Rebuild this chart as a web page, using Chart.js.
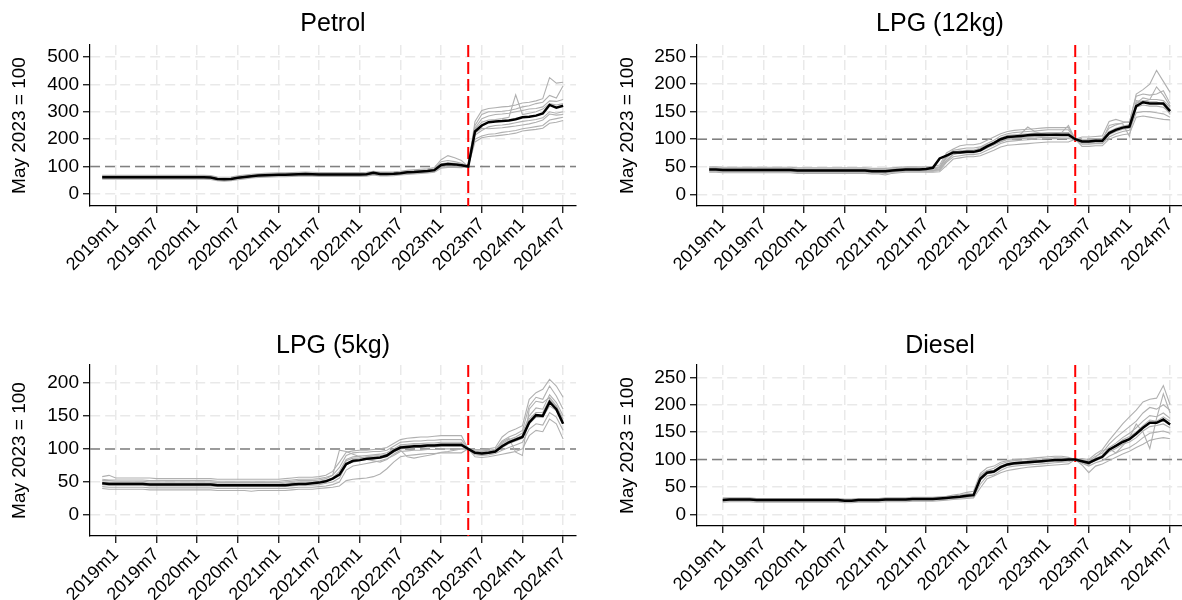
<!DOCTYPE html>
<html>
<head>
<meta charset="utf-8">
<script src="https://cdn.jsdelivr.net/npm/chart.js@4.4.1/dist/chart.umd.min.js"></script>
<style>
  html, body { margin: 0; padding: 0; background: #fff; width: 1182px; height: 600px; overflow: hidden; position: relative; }
  .panel { position: absolute; }
</style>
</head>
<body>
<div class="panel" style="left:0;top:0"><canvas id="petrol" width="591" height="300"></canvas></div>
<div class="panel" style="left:591px;top:0"><canvas id="lpg12" width="610" height="300"></canvas></div>
<div class="panel" style="left:0;top:300px"><canvas id="lpg5" width="591" height="300"></canvas></div>
<div class="panel" style="left:591px;top:300px"><canvas id="diesel" width="610" height="300"></canvas></div>
<script>
// months counted from 2019m1 = 0
const xTickMonths = [0, 6, 12, 18, 24, 30, 36, 42, 48, 54, 60, 66];
const xTickLabels = ['2019m1', '2019m7', '2020m1', '2020m7', '2021m1', '2021m7', '2022m1', '2022m7', '2023m1', '2023m7', '2024m1', '2024m7'];
const policyMonth = 52; // 2023m5
const baseIndex = 100;

// Petrol, 2018m11 .. 2024m7
const petrolMean = [
  61,61,61,61,61,61,61,61,61,61,61,61,
  61,61,61,61,60,55,54,55,59,62,65,67,
  68,69,70,70,71,72,73,72,71,71,71,71,
  71,71,71,72,77,73,73,74,76,79,80,82,
  84,87,106,109,108,105,100,228,250,262,265,266,
  268,273,280,282,286,294,325,315,322];
const petrolStates = [
  [68,68,68,68,68,68,68,68,68,68,68,68,
   68,68,68,68,67,62,61,62,66,69,72,74,
   75,76,77,77,78,79,80,79,78,78,78,78,
   78,78,78,79,83,80,80,81,83,86,88,90,
   92,96,125,140,132,122,100,265,305,312,315,318,
   320,325,332,335,340,348,425,405,408],
  [65,65,65,64,64,64,64,64,64,64,64,64,
   64,64,64,64,63,58,57,58,62,65,68,70,
   71,72,73,74,75,76,77,76,75,74,74,74,
   74,74,74,75,80,77,76,77,79,82,84,86,
   88,92,118,122,118,112,100,250,290,300,300,302,
   305,310,318,322,330,335,360,350,395],
  [63,63,63,63,63,63,63,63,63,63,63,63,
   63,63,63,63,62,57,56,57,61,64,67,69,
   70,71,72,72,73,74,75,74,73,73,73,73,
   73,73,73,74,78,75,75,76,78,81,82,84,
   86,89,110,114,112,108,100,240,275,285,290,292,
   295,300,305,310,312,318,340,338,345],
  [62,62,62,62,62,62,62,62,62,62,62,62,
   62,62,62,62,61,56,55,56,60,63,66,68,
   69,70,71,71,72,73,74,73,72,72,72,72,
   72,72,72,73,77,74,74,75,77,80,81,83,
   85,88,108,112,110,106,100,235,262,270,272,275,
   280,362,290,295,300,310,330,325,330],
  [60,60,60,60,60,60,60,60,60,60,60,60,
   60,60,60,60,59,54,53,54,58,61,64,66,
   67,68,69,69,70,71,72,71,70,70,70,70,
   70,70,70,71,76,72,72,73,75,78,79,81,
   83,86,104,108,106,104,100,222,240,238,240,242,
   245,248,252,256,262,270,292,288,290],
  [59,59,59,59,59,59,59,59,59,59,59,59,
   59,59,59,59,58,53,52,53,57,60,63,65,
   66,67,68,68,69,70,71,70,69,69,69,69,
   69,69,69,70,75,71,71,72,74,77,78,80,
   82,85,102,105,104,102,100,215,232,245,250,252,
   255,260,265,268,272,278,300,295,300],
  [57,57,57,57,57,57,57,57,57,57,57,57,
   57,57,57,57,56,51,50,51,55,58,61,63,
   64,65,66,66,67,68,69,68,67,67,67,67,
   67,67,67,68,72,69,69,70,72,74,76,78,
   80,82,98,100,100,99,100,200,212,218,220,225,
   228,232,238,242,246,250,270,275,280],
  [54,54,54,54,54,54,54,54,54,54,54,54,
   54,54,54,54,53,48,47,48,52,55,58,60,
   61,62,63,63,64,65,66,65,64,64,64,64,
   64,64,64,65,69,66,66,67,69,71,73,75,
   77,79,94,97,97,96,100,190,205,210,212,215,
   218,222,230,233,236,240,258,262,268]
];

// LPG (12kg), 2018m11 .. 2024m7
const lpg12Mean = [
  45,45,44,44,44,44,44,44,44,44,44,44,
  44,43,43,43,43,43,43,43,43,43,43,43,
  42,42,42,43,44,45,45,45,46,48,65,70,
  76,76,77,77,80,87,93,100,104,105,106,107,
  108,108,108,108,108,108,100,96,96,97,97,111,
  117,121,123,160,167,165,165,165,151];
const lpg12States = [
  [50,50,49,49,49,49,49,49,49,49,49,49,
   49,48,48,48,48,48,48,48,48,48,48,48,
   47,47,47,48,49,50,50,50,50,51,53,75,
   82,88,90,90,92,98,104,110,114,116,117,118,
   119,120,121,121,121,121,100,104,104,105,106,132,
   136,132,130,182,190,200,225,205,185],
  [48,48,47,47,47,47,47,47,47,47,47,47,
   47,46,46,46,46,46,46,46,46,46,46,46,
   45,45,45,46,47,48,48,48,48,48,50,70,
   80,82,84,84,86,92,98,106,110,112,113,114,
   115,116,117,117,117,117,100,100,100,101,101,120,
   126,130,132,178,182,180,182,188,165],
  [47,47,46,46,46,46,46,46,46,46,46,46,
   46,45,45,45,45,45,45,45,45,45,45,45,
   44,44,44,45,46,47,47,47,47,47,48,66,
   76,79,80,80,84,90,92,96,100,104,110,122,
   114,110,108,110,112,125,100,97,97,97,98,125,
   128,128,105,170,168,172,195,180,160],
  [46,46,45,45,45,45,45,45,45,45,45,45,
   45,44,44,44,44,44,44,44,44,44,44,44,
   43,43,43,44,45,46,46,46,46,46,48,67,
   78,78,80,80,82,89,95,102,107,108,109,110,
   111,111,112,112,112,112,100,98,98,99,99,114,
   120,124,126,165,175,172,172,170,158],
  [44,44,43,43,43,43,43,43,43,43,43,43,
   43,42,42,42,42,42,42,42,42,42,42,42,
   41,41,41,42,43,44,44,44,44,44,46,62,
   73,74,75,75,78,84,90,97,101,102,103,104,
   105,105,106,106,106,106,100,94,94,95,95,108,
   114,118,120,158,162,160,160,158,148],
  [43,43,42,42,42,42,42,42,42,42,42,42,
   42,41,41,41,41,41,41,41,41,41,41,41,
   40,40,40,41,42,43,43,43,43,43,45,60,
   72,76,76,77,80,86,90,95,100,100,101,102,
   102,103,103,103,104,104,100,93,93,93,94,112,
   118,120,122,165,170,168,168,162,145],
  [42,42,41,41,41,41,41,41,41,41,41,41,
   41,40,40,40,40,40,40,40,40,40,40,40,
   39,39,38,40,41,42,42,42,42,42,43,58,
   68,70,72,72,74,80,86,92,96,97,98,99,
   100,100,101,101,101,101,100,91,91,92,92,104,
   110,114,116,148,150,150,148,146,140],
  [40,40,39,39,39,39,39,39,39,39,39,39,
   39,38,38,38,38,38,38,38,38,38,38,38,
   37,37,35,38,39,40,40,40,40,40,41,52,
   64,66,68,68,70,75,80,86,89,90,91,92,
   93,94,95,95,95,95,100,87,87,88,88,100,
   105,108,110,140,142,140,138,136,135]
];

// LPG (5kg), 2018m11 .. 2024m7
const lpg5Mean = [
  48,47,47,47,47,47,47,46,46,46,46,46,
  46,46,46,46,46,45,45,45,45,45,45,45,
  45,45,45,45,46,47,47,48,49,51,55,61,
  77,82,83,85,86,87,90,97,102,103,104,104,
  105,105,106,106,106,106,100,94,93,94,96,104,
  110,114,118,140,151,150,171,160,138];
const lpg5States = [
  [58,60,56,56,56,56,56,56,55,55,55,55,
   55,55,55,55,55,54,54,54,54,54,54,54,
   54,54,54,55,56,57,57,57,58,60,66,80,
   95,97,98,98,99,100,102,108,114,116,117,118,
   118,119,120,120,120,120,100,99,99,100,102,118,
   126,130,135,175,185,190,205,195,178],
  [54,53,53,53,53,53,53,52,52,52,52,52,
   52,52,52,52,52,51,51,51,51,51,51,51,
   51,51,51,52,53,54,54,54,55,57,60,72,
   90,94,95,95,96,96,98,104,110,111,112,112,
   113,113,114,114,114,114,100,97,97,98,99,112,
   118,122,128,165,178,175,195,180,160],
  [52,52,51,51,51,51,51,50,50,50,50,50,
   50,50,50,50,50,49,49,49,49,49,49,49,
   49,49,49,50,51,52,52,52,53,55,60,98,
   96,92,88,84,82,80,84,92,98,88,86,88,
   90,92,95,96,98,100,100,96,96,97,99,110,
   116,95,90,160,172,170,178,165,145],
  [50,49,49,49,49,49,49,48,48,48,48,48,
   48,48,48,48,48,47,47,47,47,47,47,47,
   47,47,47,48,49,50,50,50,51,53,56,66,
   84,88,89,90,91,92,94,100,106,107,108,108,
   109,109,110,110,110,110,100,95,95,96,98,108,
   114,118,124,150,162,160,182,170,150],
  [48,47,47,47,47,47,47,46,46,46,46,46,
   46,46,46,46,46,45,45,45,45,45,45,45,
   45,45,45,46,47,48,48,48,49,51,54,62,
   82,86,86,88,89,90,92,98,104,105,106,106,
   107,107,108,108,108,108,100,94,94,95,97,106,
   112,116,120,145,155,155,175,165,142],
  [46,45,45,45,45,45,45,44,44,44,44,44,
   44,44,44,44,44,43,43,43,43,43,43,43,
   43,43,43,43,44,45,45,45,46,48,50,56,
   76,80,82,84,85,86,88,95,100,101,102,102,
   103,103,104,104,104,104,100,93,92,93,95,102,
   108,112,116,138,148,148,165,158,138],
  [43,42,42,42,42,42,42,41,41,41,41,41,
   41,41,41,41,41,40,40,40,40,40,40,40,
   40,40,40,40,41,42,42,42,43,44,46,50,
   68,74,76,78,80,82,85,90,96,97,98,98,
   99,99,100,100,100,100,100,91,90,91,93,98,
   102,106,110,130,138,136,155,148,128],
  [40,39,39,39,39,39,39,38,38,38,38,38,
   38,38,38,38,38,37,37,37,37,37,36,37,
   37,37,37,37,38,39,39,39,40,41,42,44,
   52,54,55,56,58,62,70,80,88,90,91,92,
   93,93,94,94,94,94,100,88,87,88,90,92,
   94,96,100,120,128,126,145,138,115]
];

// Diesel, 2019m1 .. 2024m7
const dieselMean = [
  26,27,27,27,27,26,26,26,26,26,26,26,
  26,26,26,26,26,26,25,25,26,26,26,26,
  27,27,27,27,28,28,28,28,29,30,31,32,
  34,35,65,76,78,86,91,93,94,95,96,97,
  98,99,99,100,100,97,94,100,105,118,125,132,
  137,147,158,167,167,173,164];
const dieselStates = [
  [30,30,30,30,30,29,29,29,29,29,29,29,
   29,29,29,29,29,29,28,28,29,29,29,29,
   30,30,30,30,31,31,31,31,32,33,35,37,
   40,42,75,85,88,95,98,100,101,102,103,104,
   105,106,106,104,100,102,100,110,118,135,150,165,
   178,190,205,210,212,235,200],
  [28,29,29,29,29,28,28,28,28,28,28,28,
   28,28,28,28,28,28,27,27,28,28,28,28,
   29,29,29,29,30,30,30,30,31,32,33,35,
   37,38,70,80,84,92,96,98,99,100,100,101,
   102,103,103,102,100,100,98,106,112,128,140,150,
   160,170,185,195,192,200,190],
  [27,28,28,28,28,27,27,27,27,27,27,27,
   27,27,27,27,27,27,26,26,27,27,27,27,
   28,28,28,28,29,29,29,29,30,31,32,33,
   35,36,67,78,80,88,93,95,96,97,98,99,
   100,101,101,101,100,98,96,102,108,122,130,140,
   148,158,170,180,178,185,175],
  [27,27,27,27,27,27,27,27,27,27,27,27,
   27,27,27,27,27,27,26,26,27,27,27,27,
   28,28,28,28,28,28,28,28,29,30,32,34,
   36,37,72,80,80,86,90,92,94,96,97,98,
   99,100,100,100,100,96,90,104,116,120,112,125,
   140,165,150,120,175,220,185],
  [26,26,26,26,26,26,26,26,26,26,26,26,
   26,26,26,26,26,26,25,25,26,26,26,26,
   27,27,27,27,28,28,28,28,29,30,31,32,
   34,35,64,76,79,86,90,92,93,94,95,96,
   97,98,98,99,100,98,95,102,106,118,126,136,
   142,150,162,172,170,178,170],
  [25,26,26,26,26,25,25,25,25,25,25,25,
   25,25,25,25,25,25,24,24,25,25,25,25,
   26,26,26,26,27,27,27,27,28,29,30,31,
   33,34,62,74,76,84,89,91,92,93,94,95,
   96,97,97,98,100,95,92,98,103,114,120,128,
   132,140,152,160,162,165,158],
  [24,25,25,25,25,24,24,24,24,24,24,24,
   24,24,24,24,24,24,23,23,24,24,24,24,
   25,25,25,25,26,26,26,26,27,28,29,30,
   31,32,55,70,72,80,86,88,89,90,91,92,
   93,94,95,96,100,93,88,94,98,106,112,118,
   122,130,140,148,150,152,148],
  [22,23,23,23,23,22,22,22,22,22,22,22,
   22,22,22,22,22,22,21,21,22,22,22,22,
   23,23,23,23,24,24,24,24,25,26,27,28,
   29,30,48,65,70,76,80,82,84,86,87,88,
   89,90,91,92,100,90,76,88,92,98,104,110,
   115,122,128,135,138,140,138]
];

const fontFamily = '"Liberation Sans", Arial, Helvetica, sans-serif';

const panels = [
  { id: 'petrol', title: 'Petrol', mean: petrolMean, states: petrolStates, start: -2,
    yMin: -44, yMax: 544, yTicks: [0, 100, 200, 300, 400, 500],
    box: { left: 90, top: 45, right: 15, bottom: 94 }, titleY: 24, yTitleX: 20 },
  { id: 'lpg12', title: 'LPG (12kg)', mean: lpg12Mean, states: lpg12States, start: -2,
    yMin: -21.3, yMax: 271, yTicks: [0, 50, 100, 150, 200, 250],
    box: { left: 106, top: 45, right: 18, bottom: 94 }, titleY: 24, yTitleX: 37 },
  { id: 'lpg5', title: 'LPG (5kg)', mean: lpg5Mean, states: lpg5States, start: -2,
    yMin: -31.7, yMax: 226.8, yTicks: [0, 50, 100, 150, 200],
    box: { left: 90, top: 65, right: 15, bottom: 64 }, titleY: 46, yTitleX: 20 },
  { id: 'diesel', title: 'Diesel', mean: dieselMean, states: dieselStates, start: 0,
    yMin: -21.3, yMax: 272.5, yTicks: [0, 50, 100, 150, 200, 250],
    box: { left: 106, top: 65, right: 18, bottom: 74 }, titleY: 46, yTitleX: 37 }
];

function toPoints(values, start) {
  return values.map((v, i) => ({ x: start + i, y: v }));
}

function makeChart(cfg) {
  const datasets = [{
    data: toPoints(cfg.mean, cfg.start),
    borderColor: '#000000', borderWidth: 2.5, pointRadius: 0
  }];
  cfg.states.forEach(s => {
    datasets.push({ data: toPoints(s, cfg.start), borderColor: '#b0b0b0', borderWidth: 1.1, pointRadius: 0 });
  });

  // reference lines under the data, titles on top
  const decor = {
    id: 'decor',
    beforeDatasetsDraw(chart) {
      const { ctx, chartArea: a, scales: { x, y } } = chart;
      ctx.save();
      ctx.beginPath();
      ctx.rect(a.left, a.top, a.right - a.left, a.bottom - a.top);
      ctx.clip();
      const yy = y.getPixelForValue(baseIndex);
      ctx.strokeStyle = '#808080';
      ctx.lineWidth = 1.5;
      ctx.setLineDash([10, 5]);
      ctx.beginPath(); ctx.moveTo(a.left, yy); ctx.lineTo(a.right, yy); ctx.stroke();
      const xx = x.getPixelForValue(policyMonth);
      ctx.strokeStyle = '#ff0000';
      ctx.lineWidth = 2;
      ctx.setLineDash([12, 5]);
      ctx.beginPath(); ctx.moveTo(xx, a.top); ctx.lineTo(xx, a.bottom); ctx.stroke();
      ctx.restore();
    },
    afterDraw(chart) {
      const { ctx, chartArea: a } = chart;
      ctx.save();
      ctx.fillStyle = '#000';
      ctx.textAlign = 'center';
      ctx.textBaseline = 'middle';
      ctx.font = '25px ' + fontFamily;
      ctx.fillText(cfg.title, (a.left + a.right) / 2, cfg.titleY);
      ctx.translate(cfg.yTitleX, (a.top + a.bottom) / 2);
      ctx.rotate(-Math.PI / 2);
      ctx.font = '19px ' + fontFamily;
      ctx.fillText('May 2023 = 100', 0, 0);
      ctx.restore();
    }
  };

  const gridOpts = { color: '#e9e9e9', lineWidth: 1.5, tickLength: 7, tickColor: '#000', tickWidth: 1.2 };
  const borderOpts = { color: '#000', width: 1.2, dash: [10, 5] };

  new Chart(document.getElementById(cfg.id), {
    type: 'line',
    data: { datasets },
    options: {
      responsive: false,
      animation: false,
      layout: { padding: { left: 0, top: cfg.box.top, right: cfg.box.right, bottom: 0 } },
      plugins: { legend: { display: false }, tooltip: { enabled: false } },
      elements: { line: { tension: 0 } },
      scales: {
        x: {
          type: 'linear', min: -3.8, max: 67.9,
          afterBuildTicks: s => { s.ticks = xTickMonths.map(v => ({ value: v })); },
          afterFit: s => { s.height = cfg.box.bottom; },
          ticks: {
            autoSkip: false, minRotation: 45, maxRotation: 45, padding: 1,
            color: '#000', font: { family: fontFamily, size: 18 },
            callback: (v, i) => xTickLabels[i]
          },
          grid: gridOpts,
          border: borderOpts
        },
        y: {
          min: cfg.yMin, max: cfg.yMax,
          afterBuildTicks: s => { s.ticks = cfg.yTicks.map(v => ({ value: v })); },
          afterFit: s => { s.width = cfg.box.left; },
          ticks: { padding: 4, color: '#000', font: { family: fontFamily, size: 19 } },
          grid: gridOpts,
          border: borderOpts
        }
      }
    },
    plugins: [decor]
  });
}

panels.forEach(makeChart);
</script>
</body>
</html>
